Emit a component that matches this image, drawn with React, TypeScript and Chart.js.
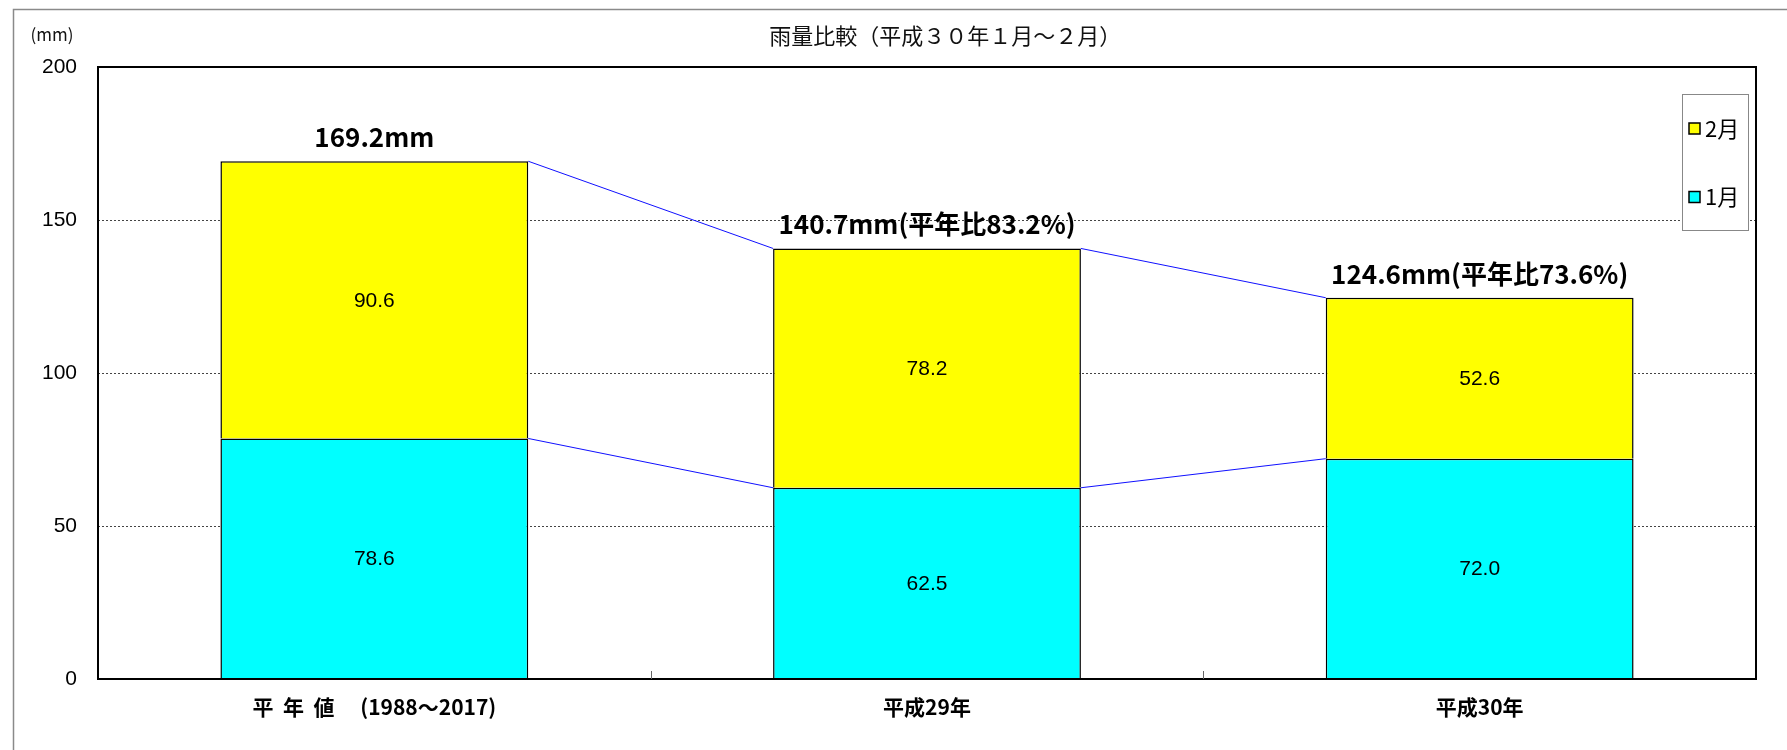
import React, { useEffect, useRef } from "react";
import { Chart, registerables } from "chart.js";

Chart.register(...registerables);

// ---- data ----
const categories = ["平  年  値　 (1988～2017)", "平成29年", "平成30年"];
const janValues = [78.6, 62.5, 72.0];
const febValues = [90.6, 78.2, 52.6];
const seriesNames = ["1月", "2月"];
const seriesColors = ["#00FFFF", "#FFFF00"];
const yMin = 0;
const yMax = 200;
const yStep = 50;
const titleText = "雨量比較（平成３０年１月～２月）";
const unitText = "(mm)";
const ratioPrefix = "平年比";

const W = 1787;
const H = 750;
const JP = "'Noto Sans CJK JP', 'Noto Sans', sans-serif";
const LAT = "'Liberation Sans', Arial, sans-serif";

function totalLabel(i: number): string {
  const total = janValues[i] + febValues[i];
  const base = janValues[0] + febValues[0];
  if (i === 0) return total.toFixed(1) + "mm";
  return total.toFixed(1) + "mm(" + ratioPrefix + ((total / base) * 100).toFixed(1) + "%)";
}

const decorPlugin = {
  id: "decor",
  beforeDraw(chart: any) {
    const ctx = chart.ctx;
    ctx.save();
    ctx.fillStyle = "#ffffff";
    ctx.fillRect(0, 0, chart.width, chart.height);
    ctx.strokeStyle = "#8a8a8a";
    ctx.lineWidth = 1.5;
    ctx.beginPath();
    ctx.moveTo(13.5, chart.height);
    ctx.lineTo(13.5, 9.5);
    ctx.lineTo(chart.width, 9.5);
    ctx.stroke();
    ctx.restore();
  },
  afterDatasetsDraw(chart: any) {
    const ctx = chart.ctx;
    const ca = chart.chartArea;
    ctx.save();
    // series lines
    ctx.strokeStyle = "#1010ff";
    ctx.lineWidth = 1;
    chart.data.datasets.forEach((_ds: any, di: number) => {
      const meta = chart.getDatasetMeta(di);
      for (let i = 0; i < meta.data.length - 1; i++) {
        const a = meta.data[i];
        const b = meta.data[i + 1];
        ctx.beginPath();
        ctx.moveTo(a.x + a.width / 2, a.y);
        ctx.lineTo(b.x - b.width / 2, b.y);
        ctx.stroke();
      }
    });
    // value labels inside segments
    ctx.fillStyle = "#000";
    ctx.font = "21px " + LAT;
    ctx.textAlign = "center";
    ctx.textBaseline = "middle";
    chart.data.datasets.forEach((ds: any, di: number) => {
      const meta = chart.getDatasetMeta(di);
      meta.data.forEach((el: any, i: number) => {
        ctx.fillText(Number(ds.data[i]).toFixed(1), el.x, (el.y + el.base) / 2 + 1);
      });
    });
    // totals
    const topMeta = chart.getDatasetMeta(chart.data.datasets.length - 1);
    ctx.font = "bold 26px " + JP;
    ctx.textBaseline = "alphabetic";
    topMeta.data.forEach((el: any, i: number) => {
      ctx.fillText(totalLabel(i), el.x, el.y - 14);
    });
    // frame
    ctx.strokeStyle = "#000";
    ctx.lineWidth = 2;
    ctx.strokeRect(ca.left, ca.top, ca.right - ca.left, ca.bottom - ca.top);
    // inner category ticks
    const xs = chart.scales.x;
    ctx.strokeStyle = "#666";
    ctx.lineWidth = 1;
    for (let i = 0; i < categories.length - 1; i++) {
      const bx = Math.round((xs.getPixelForValue(i) + xs.getPixelForValue(i + 1)) / 2) + 0.5;
      ctx.beginPath();
      ctx.moveTo(bx, ca.bottom);
      ctx.lineTo(bx, ca.bottom - 8);
      ctx.stroke();
    }
    ctx.restore();
  },
  afterDraw(chart: any) {
    const ctx = chart.ctx;
    const ca = chart.chartArea;
    ctx.save();
    // title
    ctx.fillStyle = "#111";
    ctx.font = "22px " + JP;
    ctx.textAlign = "center";
    ctx.textBaseline = "middle";
    ctx.fillText(titleText, ca.left + (ca.right - ca.left) * 0.511, 36);
    // unit
    ctx.font = "17px " + JP;
    ctx.fillText(unitText, 52, 35);
    // legend
    const lw = 66;
    const lh = 136;
    const lx = ca.right - 74;
    const ly = ca.top + 27;
    ctx.fillStyle = "#fff";
    ctx.fillRect(lx, ly, lw, lh);
    ctx.strokeStyle = "#888";
    ctx.lineWidth = 1;
    ctx.strokeRect(lx + 0.5, ly + 0.5, lw, lh);
    const items = chart.data.datasets.map((ds: any) => ds).reverse();
    const rowY = [ly + 34.5, ly + 103];
    items.forEach((ds: any, k: number) => {
      const cy = rowY[k];
      ctx.fillStyle = ds.backgroundColor;
      ctx.fillRect(lx + 7, cy - 5.5, 11, 11);
      ctx.strokeStyle = "#000";
      ctx.lineWidth = 1.5;
      ctx.strokeRect(lx + 7, cy - 5.5, 11, 11);
      ctx.fillStyle = "#000";
      ctx.font = "22px " + JP;
      ctx.textAlign = "left";
      ctx.textBaseline = "middle";
      ctx.fillText(ds.label, lx + 23, cy);
    });
    ctx.restore();
  },
};

export default function App() {
  const ref = useRef<HTMLCanvasElement | null>(null);
  useEffect(() => {
    document.body.style.margin = "0";
    if (!ref.current) return;
    const chart = new Chart(ref.current, {
      type: "bar",
      data: {
        labels: categories,
        datasets: [
          {
            label: seriesNames[0],
            data: janValues,
            backgroundColor: seriesColors[0],
            borderColor: "#000",
            borderWidth: 1.5,
            categoryPercentage: 1,
            barPercentage: 0.557,
          },
          {
            label: seriesNames[1],
            data: febValues,
            backgroundColor: seriesColors[1],
            borderColor: "#000",
            borderWidth: 1.5,
            categoryPercentage: 1,
            barPercentage: 0.557,
          },
        ],
      },
      options: {
        responsive: false,
        animation: false,
        devicePixelRatio: 1,
        layout: { padding: { left: 0, right: 31, top: 67, bottom: 0 } },
        plugins: {
          legend: { display: false },
          title: { display: false },
          tooltip: { enabled: false },
        },
        scales: {
          x: {
            stacked: true,
            grid: { display: false, drawTicks: false },
            border: { display: false },
            ticks: {
              color: "#000",
              font: { family: JP, size: 21, weight: "bold" },
              padding: 15,
              maxRotation: 0,
              autoSkip: false,
            },
            afterFit: (s: any) => {
              s.height = 71;
            },
          },
          y: {
            stacked: true,
            min: yMin,
            max: yMax,
            ticks: {
              stepSize: yStep,
              color: "#000",
              font: { family: LAT, size: 21 },
              padding: 21,
            },
            grid: {
              drawTicks: false,
              lineWidth: 1,
              color: (c: any) =>
                c.tick && c.tick.value > yMin && c.tick.value < yMax ? "#444" : "rgba(0,0,0,0)",
            },
            border: { display: false, dash: [2, 2] },
            afterFit: (s: any) => {
              s.width = 98;
            },
          },
        },
      },
      plugins: [decorPlugin],
    } as any);
    return () => chart.destroy();
  }, []);
  return (
    <div style={{ width: W, height: H, position: "relative" }}>
      <canvas ref={ref} width={W} height={H} style={{ display: "block" }} />
    </div>
  );
}
